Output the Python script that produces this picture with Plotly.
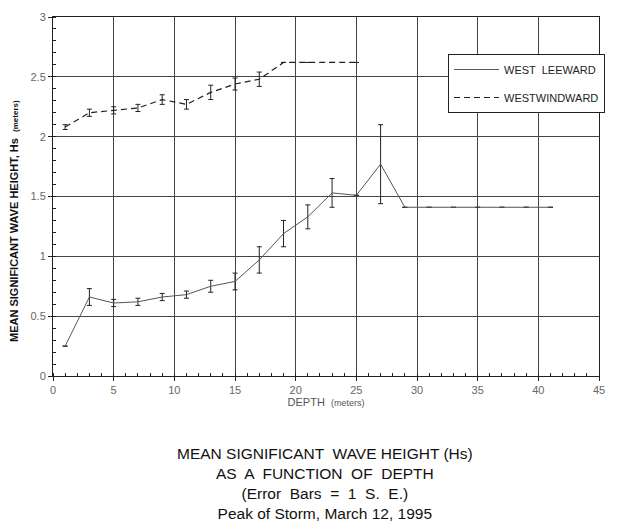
import plotly.graph_objects as go

# West leeward (solid)
lee_depth = [1, 3, 5, 7, 9, 11, 13, 15, 17, 19, 21, 23, 25, 27, 29, 31, 33, 35, 37, 39, 41]
lee_hs = [0.25, 0.66, 0.61, 0.62, 0.66, 0.68, 0.75, 0.79, 0.97, 1.19, 1.33, 1.53, 1.51, 1.77, 1.41, 1.41, 1.41, 1.41, 1.41, 1.41, 1.41]
lee_se = [0, 0.07, 0.03, 0.03, 0.03, 0.03, 0.05, 0.07, 0.11, 0.11, 0.10, 0.12, 0, 0.33, 0, 0, 0, 0, 0, 0, 0]

# West windward (dashed)
wind_depth = [1, 3, 5, 7, 9, 11, 13, 15, 17, 19, 21, 23, 25]
wind_hs = [2.08, 2.20, 2.22, 2.24, 2.31, 2.27, 2.37, 2.44, 2.48, 2.62, 2.62, 2.62, 2.62]
wind_se = [0.02, 0.03, 0.03, 0.03, 0.04, 0.04, 0.06, 0.05, 0.06, 0, 0, 0, 0]

x_ticks = [0, 5, 10, 15, 20, 25, 30, 35, 40, 45]
y_ticks = [0, 0.5, 1, 1.5, 2, 2.5, 3]

title_lines = [
    "MEAN SIGNIFICANT  WAVE HEIGHT (Hs)",
    "AS  A  FUNCTION  OF  DEPTH",
    "(Error  Bars  =  1  S.  E.)",
    "Peak of Storm, March 12, 1995",
]

FONT = "Liberation Sans, Arial, sans-serif"

# page has an 8px body margin; figure coordinates = page coordinates - 8
W, H = 615, 517
L, R, T, B = 45, 24, 9, 149
PW = W - L - R
PH = H - T - B


def px(xp):
    return (xp - 8 - L) / PW


def py(yp):
    return 1 - (yp - 8 - T) / PH


fig = go.Figure()
fig.add_trace(go.Scatter(
    x=lee_depth, y=lee_hs, mode="lines", name="WEST  LEEWARD",
    legendgroup="lee",
    line=dict(color="#555555", width=1),
    error_y=dict(type="data", array=lee_se, visible=True, color="#222222", thickness=1, width=2.5),
))
fig.add_trace(go.Scatter(
    x=wind_depth, y=wind_hs, mode="lines", name="WESTWINDWARD",
    legendgroup="wind",
    line=dict(color="#222222", width=1.2, dash="6px,4px"),
    error_y=dict(type="data", array=wind_se, visible=True, color="#222222", thickness=1, width=2.5),
))

axis_common = dict(
    showgrid=True, gridcolor="#444444", gridwidth=1,
    showline=True, linecolor="#222222", linewidth=1, mirror=True,
    ticks="outside", ticklen=4, tickcolor="#222222",
    tickfont=dict(family=FONT, size=11, color="#666666"),
    zeroline=False, automargin=False,
)

fig.update_xaxes(
    range=[0, 45], tickvals=x_ticks, ticktext=[str(v) for v in x_ticks],
    minor=dict(dtick=1, ticks="inside", ticklen=3, tickcolor="#222222", showgrid=False),
    title=dict(text="DEPTH  <span style='font-size:9px'>(meters)</span>",
               font=dict(family=FONT, size=11, color="#555555"), standoff=0),
    **axis_common,
)
fig.update_yaxes(
    range=[0, 3], tickvals=y_ticks, ticktext=["0", "0.5", "1", "1.5", "2", "2.5", "3"],
    minor=dict(dtick=0.1, ticks="inside", ticklen=3, tickcolor="#222222", showgrid=False),
    **axis_common,
)

fig.add_annotation(
    xref="paper", yref="paper", x=px(14), y=py(221), textangle=-90,
    text="<b>MEAN SIGNIFICANT WAVE HEIGHT, Hs</b>  <span style='font-size:8px'><b>(meters)</b></span>",
    showarrow=False, font=dict(family=FONT, size=11, color="#111111"),
    xanchor="center", yanchor="middle",
)

fig.add_annotation(
    xref="paper", yref="paper", x=px(325), y=py(443), yanchor="top",
    text="<br>".join(title_lines), showarrow=False, align="center",
    font=dict(family=FONT, size=15.5, color="#111111"),
)

fig.update_layout(
    width=W, height=H,
    margin=dict(l=L, r=R, t=T, b=B, autoexpand=False),
    paper_bgcolor="white", plot_bgcolor="white",
    showlegend=True,
    legend=dict(
        x=px(448), y=py(54), xanchor="left", yanchor="top",
        entrywidth=150, entrywidthmode="pixels",
        bgcolor="white", bordercolor="#222222", borderwidth=1,
        font=dict(family=FONT, size=11, color="#222222"),
        itemwidth=45, tracegroupgap=9,
        itemclick=False,
    ),
)

fig.write_html("out.html")
